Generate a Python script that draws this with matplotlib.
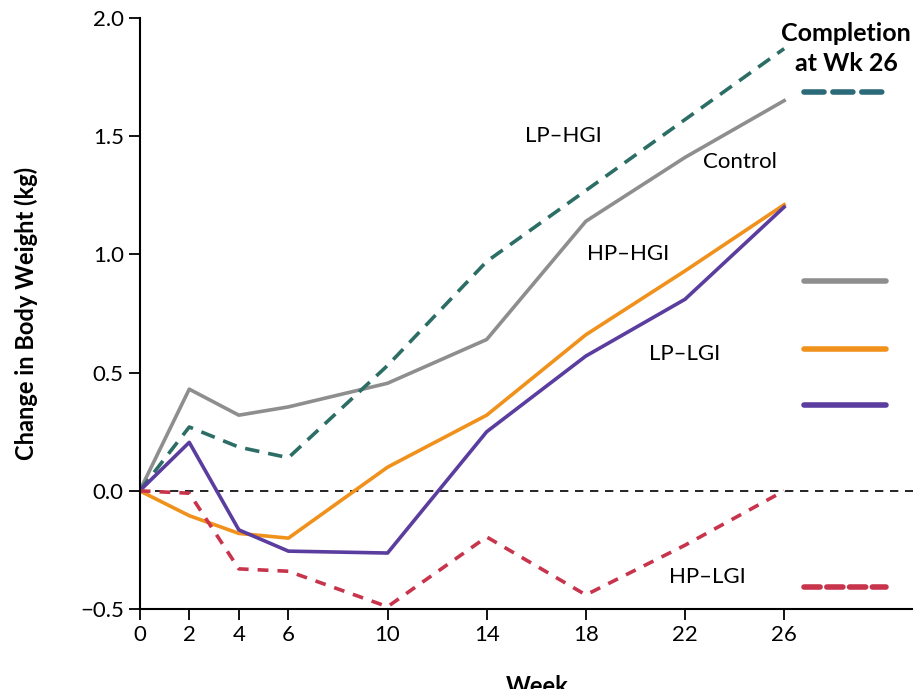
import matplotlib
matplotlib.use("Agg")
import matplotlib.pyplot as plt

# weeks of measurement
weeks = [0, 2, 4, 6, 10, 14, 18, 22, 26]

# change in body weight (kg) per group
control = [0, 0.43, 0.32, 0.355, 0.455, 0.64, 1.14, 1.41, 1.65]
lp_hgi = [0, 0.27, 0.185, 0.14, 0.53, 0.97, 1.27, 1.57, 1.87]
hp_hgi = [0, -0.105, -0.18, -0.20, 0.10, 0.32, 0.66, 0.93, 1.21]
lp_lgi = [0, 0.205, -0.165, -0.255, -0.263, 0.25, 0.57, 0.81, 1.20]
hp_lgi = [0, -0.01, -0.33, -0.34, -0.49, -0.195, -0.44, -0.23, 0.0]

# completion-at-week-26 markers (right side)
completion_vals = [1.687, 0.887, 0.60, 0.363, -0.407]

plt.rcParams['font.family'] = ['Lato', 'DejaVu Sans']

fig = plt.figure(figsize=(9.13, 6.89), dpi=100)
ax = fig.add_axes([0.153, 0.116, 0.847, 0.858])

teal = '#2c6e66'
teal2 = '#2b6a78'
gray = '#8e8e8e'
orange = '#f0911c'
purple = '#5a3d9e'
red = '#c8344c'

ax.axhline(0, color='black', lw=1.2, ls=(0, (5, 4)), zorder=1)

ax.plot(weeks, control, color=gray, lw=2.6)
ax.plot(weeks, lp_hgi, color=teal, lw=2.6, ls=(0, (4, 2.5)))
ax.plot(weeks, hp_hgi, color=orange, lw=2.6)
ax.plot(weeks, lp_lgi, color=purple, lw=2.6)
ax.plot(weeks, hp_lgi, color=red, lw=2.6, ls=(0, (3, 2.5)))

# completion legend segments
styles = [(teal2, (0, (3.6, 1.6))), (gray, '-'), (orange, '-'), (purple, '-'), (red, (0, (2.9, 1.2)))]
for v, (c, s) in zip(completion_vals, styles):
    ax.plot([26.8, 30.1], [v, v], color=c, lw=4, ls=s, solid_capstyle='round', dash_capstyle='round')

ax.text(17.1, 1.50, 'LP–HGI', fontsize=16, ha='center', va='center')
ax.text(24.2, 1.39, 'Control', fontsize=16, ha='center', va='center')
ax.text(19.7, 1.00, 'HP–HGI', fontsize=16, ha='center', va='center')
ax.text(22.0, 0.58, 'LP–LGI', fontsize=16, ha='center', va='center')
ax.text(22.9, -0.365, 'HP–LGI', fontsize=16, ha='center', va='center')
ax.text(28.5, 1.87, 'Completion\nat Wk 26', fontsize=18, fontweight='bold', ha='center', va='center', linespacing=1.35)

ax.set_xlim(0, 31.2)
ax.set_ylim(-0.5, 2.0)
ax.set_xticks(weeks)
ax.set_yticks([-0.5, 0.0, 0.5, 1.0, 1.5, 2.0])
ax.set_yticklabels(['−0.5', '0.0', '0.5', '1.0', '1.5', '2.0'])
ax.tick_params(labelsize=16, length=8, width=1.3, direction='out')
ax.spines['top'].set_visible(False)
ax.spines['right'].set_visible(False)
ax.spines['left'].set_linewidth(1.5)
ax.spines['bottom'].set_linewidth(1.5)
ax.set_ylabel('Change in Body Weight (kg)', fontsize=17, fontweight='bold', labelpad=30)
fig.text(537 / 913, 1 - 675 / 689, 'Week', fontsize=17, fontweight='bold', ha='center', va='top')

fig.savefig('out.png', dpi=100)
